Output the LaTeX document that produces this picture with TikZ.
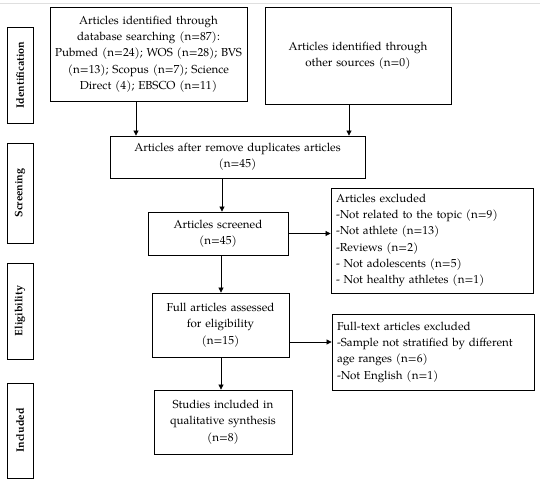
\documentclass[tikz,border=0pt]{standalone}
\usepackage{fontspec}
\setmainfont{TeX Gyre Pagella}
\usetikzlibrary{arrows.meta}
\begin{document}
\begin{tikzpicture}[x=1pt,y=-1pt,
  box/.style={draw, line width=0.8pt, align=center, inner sep=3pt, font=\fontsize{11.6}{16.3}\selectfont},
  lbox/.style={draw, line width=0.8pt, align=left, inner sep=3pt, font=\fontsize{11.6}{16.3}\selectfont},
  side/.style={draw, line width=0.8pt, rotate=90, font=\bfseries\fontsize{10.8}{12}\selectfont},
  arr/.style={line width=0.7pt, -{Triangle[length=5pt,width=5pt]}}]
\useasboundingbox (0,0) rectangle (550,481);
\draw[gray!25, line width=0.8pt] (0,3) -- (540,3);
% side labels
\node[side, minimum width=96pt, minimum height=26pt] (sid) at (20,75) {Identification};
\node[side, minimum width=100pt, minimum height=26pt] (sscr) at (20,193) {Screening};
\node[side, minimum width=96pt, minimum height=26pt] (selg) at (20,311) {Eligibility};
\node[side, minimum width=95pt, minimum height=26pt] (sinc) at (20,430.5) {Included};
% boxes
\node[box, minimum width=197pt, minimum height=94pt, text width=190pt] (db) at (148.5,54) {Articles identified through\\database searching (n=87):\\Pubmed (n=24); WOS (n=28); BVS\\(n=13); Scopus (n=7); Science\\Direct (4); EBSCO (n=11)};
\node[box, minimum width=186pt, minimum height=97pt, text width=178pt] (oth) at (358,55.5) {Articles identified through\\other sources (n=0)};
\node[box, minimum width=255pt, minimum height=42pt, text width=246pt] (dup) at (237.5,157) {Articles after remove duplicates articles\\(n=45)};
\node[box, minimum width=140pt, minimum height=43pt, text width=132pt] (scr) at (218,233.5) {Articles screened\\(n=45)};
\node[lbox, minimum width=202pt, minimum height=105pt, text width=192pt] (ex1) at (432,240.5) {Articles excluded\\-Not related to the topic (n=9)\\-Not athlete (n=13)\\-Reviews (n=2)\\- Not adolescents (n=5)\\- Not healthy athletes (n=1)};
\node[box, minimum width=137pt, minimum height=64pt, text width=130pt] (full) at (220.5,325) {Full articles assessed\\for eligibility\\(n=15)};
\node[lbox, minimum width=202pt, minimum height=76pt, text width=192pt] (ex2) at (433,352) {Full-text articles excluded\\-Sample not stratified by different\\age ranges (n=6)\\-Not English (n=1)};
\node[box, minimum width=138pt, minimum height=64pt, text width=132pt] (inc) at (223,422) {Studies included in\\qualitative synthesis\\(n=8)};
% guide coordinates
\coordinate (a1) at (136,0);
\coordinate (a2) at (349,0);
\coordinate (a3) at (222,0);
\coordinate (a4) at (221,0);
\coordinate (h2) at (0,342);
% arrows
\draw[arr] (db.south -| a1) -- (dup.north -| a1);
\draw[arr] (oth.south -| a2) -- (dup.north -| a2);
\draw[arr] (dup.south -| a3) -- (scr.north -| a3);
\draw[arr] (scr.east) -- (scr.east -| ex1.west);
\draw[arr] (scr.south -| a4) -- (full.north -| a4);
\draw[arr] (full.east |- h2) -- (ex2.west |- h2);
\draw[arr] (full.south -| a4) -- (inc.north -| a4);
\end{tikzpicture}
\end{document}
